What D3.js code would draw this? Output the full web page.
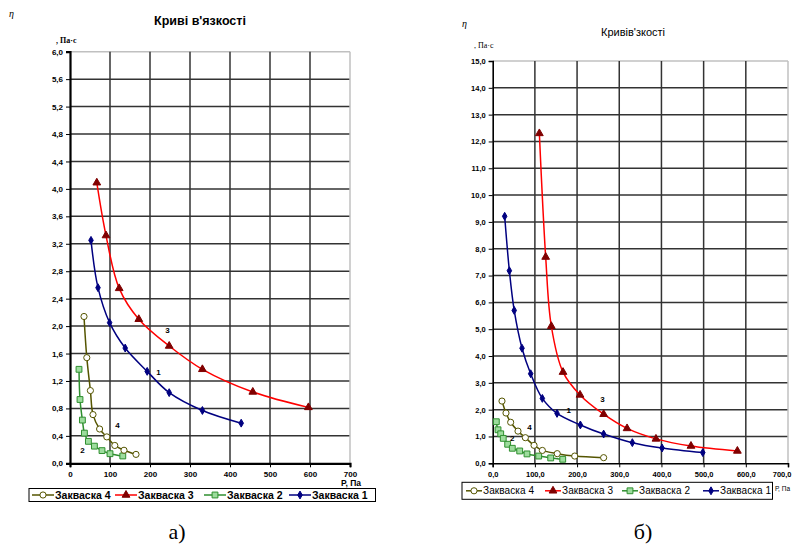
<!DOCTYPE html>
<html>
<head>
<meta charset="utf-8">
<script src="https://cdn.jsdelivr.net/npm/d3@7"></script>
<style>
  body { margin: 0; background: #fff; }
  svg { display: block; }
</style>
</head>
<body>
<svg id="chart" width="792" height="544"></svg>
<script>
// --- data: left chart (а), points [P, Па ; η, Па·с]
const leftZakvaska1 = [[52.5, 3.25], [70, 2.56], [99, 2.05], [138, 1.68], [193, 1.34], [248, 1.03], [331, 0.77], [428, 0.585]];
const leftZakvaska2 = [[22.5, 1.37], [25, 0.93], [31, 0.63], [36, 0.44], [46, 0.32], [61, 0.25], [80, 0.185], [100, 0.14], [132, 0.107]];
const leftZakvaska3 = [[67, 4.09], [90, 3.32], [123, 2.55], [172, 2.10], [248, 1.71], [331, 1.37], [457, 1.04], [596, 0.815]];
const leftZakvaska4 = [[35, 2.14], [42, 1.54], [51, 1.06], [57.5, 0.71], [74, 0.50], [92, 0.385], [112, 0.26], [135, 0.19], [165, 0.13]];
const leftCurveLabels = [['3', 244, 1.93], ['1', 221, 1.32], ['4', 119, 0.54], ['2', 31, 0.185]];

// --- data: right chart (б)
const rightZakvaska1 = [[28.4, 9.21], [39.5, 7.18], [51, 5.70], [69.5, 4.29], [90, 3.34], [117.7, 2.42], [152.5, 1.86], [207.8, 1.43], [263, 1.09], [331, 0.77], [401.5, 0.57], [498, 0.40]];
const rightZakvaska2 = [[8.6, 1.55], [12.6, 1.25], [19, 1.10], [25, 0.93], [35.5, 0.71], [46.5, 0.56], [64, 0.46], [81.3, 0.35], [109, 0.27], [137.5, 0.20], [166, 0.15]];
const rightZakvaska3 = [[110.6, 12.30], [125.6, 7.69], [139, 5.11], [166.7, 3.40], [207, 2.55], [263, 1.83], [318.5, 1.30], [387, 0.91], [470, 0.645], [580, 0.46]];
const rightZakvaska4 = [[22, 2.32], [31.5, 1.875], [42.6, 1.53], [60, 1.20], [77.4, 0.955], [98, 0.67], [117.7, 0.48], [153, 0.36], [194.4, 0.27], [263, 0.21]];
const rightCurveLabels = [['3', 260, 2.36], ['1', 180, 1.94], ['4', 87, 1.33], ['2', 46, 0.92]];

const legendNames = ['Закваска 4', 'Закваска 3', 'Закваска 2', 'Закваска 1'];
const leftYTicks = d3.range(0, 6.01, 0.4);
const leftXTicks = d3.range(0, 701, 100);
const rightYTicks = d3.range(0, 15.01, 1);
const rightXTicks = d3.range(0, 701, 100);

const styles = {
  s1: { line: '#000080', fill: '#000080', stroke: '#000080', symbol: d3.symbolDiamond, size: 18 },
  s2: { line: '#2f8f2f', fill: '#9ddc9d', stroke: '#2f8f2f', symbol: d3.symbolSquare, size: 34 },
  s3: { line: '#ff0000', fill: '#800000', stroke: '#800000', symbol: d3.symbolTriangle, size: 26 },
  s4: { line: '#555500', fill: '#ffffff', stroke: '#555500', symbol: d3.symbolCircle, size: 30 },
};

const svg = d3.select('#chart');
const fmt = (d) => d3.format('.1f')(d).replace('.', ',');

const drawChart = ({ x0, x1, y0, y1, xMax, yMax, xTicks, yTicks, xFmt, series, curveLabels,
  bold, tickFont, legend, title, titleX, titleY, unitX, unitY, etaX, etaY, pX, pY, pFont, capX, cap }) => {
  const g = svg.append('g');
  const x = d3.scaleLinear().domain([0, xMax]).range([x0, x1]);
  const y = d3.scaleLinear().domain([0, yMax]).range([y0, y1]);

  // grid
  g.selectAll('.hg').data(yTicks.slice(1)).join('line')
    .attr('x1', x0).attr('x2', x1)
    .attr('y1', (d) => y(d)).attr('y2', (d) => y(d))
    .attr('stroke', (d, i) => (i === yTicks.length - 2 ? '#c0c0c0' : '#333'))
    .attr('stroke-width', 1.5);
  g.selectAll('.vg').data(xTicks.slice(1)).join('line')
    .attr('y1', y0).attr('y2', y1)
    .attr('x1', (d) => x(d)).attr('x2', (d) => x(d))
    .attr('stroke', (d, i) => (i === xTicks.length - 2 ? '#c0c0c0' : '#333'))
    .attr('stroke-width', 1.5);

  // axes
  const yAxis = g.append('g').attr('transform', `translate(${x0},0)`)
    .call(d3.axisLeft(y).tickValues(yTicks).tickFormat(fmt).tickSize(4).tickPadding(3));
  const xAxis = g.append('g').attr('transform', `translate(0,${y0})`)
    .call(d3.axisBottom(x).tickValues(xTicks).tickFormat(xFmt).tickSize(4).tickPadding(4));
  [yAxis, xAxis].forEach((a) => {
    a.selectAll('path').attr('stroke', '#000').attr('stroke-width', bold ? 2.2 : 1.6);
    a.selectAll('line').attr('stroke', '#000').attr('stroke-width', 1);
    a.selectAll('text').attr('font-family', 'Arial, "Liberation Sans", sans-serif')
      .attr('font-weight', 'bold').attr('font-size', tickFont).attr('fill', '#000');
  });
  // keep the last x label inside the page
  xAxis.selectAll('.tick text').filter((d) => x(d) + 12 > 792)
    .attr('text-anchor', 'end').attr('x', (d) => 791 - x(d));

  // curves
  const line = d3.line().x((d) => x(d[0])).y((d) => y(d[1])).curve(d3.curveCatmullRom.alpha(0.5));
  series.forEach(({ data, st }) => {
    g.append('path').datum(data).attr('d', line)
      .attr('fill', 'none').attr('stroke', st.line).attr('stroke-width', 1.5);
  });
  series.forEach(({ data, st }) => {
    g.selectAll(null).data(data).join('path')
      .attr('d', d3.symbol(st.symbol, st.size))
      .attr('transform', (d) => `translate(${x(d[0])},${y(d[1])})`)
      .attr('fill', st.fill).attr('stroke', st.stroke).attr('stroke-width', 1);
  });

  g.selectAll(null).data(curveLabels).join('text')
    .attr('x', (d) => x(d[1])).attr('y', (d) => y(d[2]))
    .attr('text-anchor', 'middle').attr('dominant-baseline', 'middle')
    .attr('font-family', 'Arial, sans-serif').attr('font-weight', 'bold').attr('font-size', 8)
    .text((d) => d[0]);

  // titles and units
  g.append('text').attr('x', titleX).attr('y', titleY).attr('text-anchor', 'middle')
    .attr('font-family', 'Arial, "Liberation Sans", sans-serif')
    .attr('font-weight', bold ? 'bold' : 'normal').attr('font-size', bold ? 12.5 : 11)
    .text(title);
  g.append('text').attr('x', etaX).attr('y', etaY)
    .attr('font-family', '"Liberation Serif", "Times New Roman", serif').attr('font-style', 'italic')
    .attr('font-size', 10).text('η');
  g.append('text').attr('x', unitX).attr('y', unitY)
    .attr('font-family', '"Liberation Serif", "Times New Roman", serif')
    .attr('font-weight', bold ? 'bold' : 'normal').attr('font-size', 8).text(', Па·с');
  g.append('text').attr('x', pX).attr('y', pY).attr('text-anchor', 'middle')
    .attr('font-family', 'Arial, sans-serif').attr('font-weight', bold ? 'bold' : 'normal')
    .attr('font-size', pFont).text('Р, Па');

  // legend
  g.append('rect').attr('x', legend.x).attr('y', legend.y).attr('width', legend.w).attr('height', legend.h)
    .attr('fill', '#fff').attr('stroke', '#000').attr('stroke-width', 1);
  const legendSeries = [series[3], series[2], series[1], series[0]];
  legendSeries.forEach(({ st }, i) => {
    const lx = legend.starts[i];
    const ly = legend.y + legend.h / 2;
    g.append('line').attr('x1', lx).attr('x2', lx + legend.lineLen).attr('y1', ly).attr('y2', ly)
      .attr('stroke', st.line).attr('stroke-width', 1.5);
    g.append('path').attr('d', d3.symbol(st.symbol, st.size))
      .attr('transform', `translate(${lx + legend.lineLen / 2},${ly})`)
      .attr('fill', st.fill).attr('stroke', st.stroke).attr('stroke-width', 1);
    g.append('text').attr('x', lx + legend.lineLen + 1).attr('y', ly).attr('dominant-baseline', 'central')
      .attr('font-family', 'Arial, "Liberation Sans", sans-serif')
      .attr('font-weight', bold ? 'bold' : 'normal').attr('font-size', legend.font)
      .attr('letter-spacing', legend.spacing)
      .text(legendNames[i]);
  });

  // caption а) / б)
  g.append('text').attr('x', capX).attr('y', 539).attr('text-anchor', 'middle')
    .attr('font-family', '"Liberation Serif", "Times New Roman", serif').attr('font-size', 22)
    .text(cap);
};

drawChart({
  x0: 70, x1: 350, y0: 463.3, y1: 51.7, xMax: 700, yMax: 6,
  xTicks: leftXTicks, yTicks: leftYTicks, xFmt: d3.format('d'),
  series: [
    { data: leftZakvaska1, st: styles.s1 },
    { data: leftZakvaska2, st: styles.s2 },
    { data: leftZakvaska3, st: styles.s3 },
    { data: leftZakvaska4, st: styles.s4 },
  ],
  curveLabels: leftCurveLabels, bold: true, tickFont: 8,
  legend: { x: 29, y: 488.5, w: 346.5, h: 13, starts: [32, 115, 204, 289], lineLen: 22, font: 10.5, spacing: 0 },
  title: 'Криві в\'язкості', titleX: 200, titleY: 25,
  unitX: 56, unitY: 43, etaX: 9, etaY: 17, pX: 351, pY: 486, pFont: 8.5, capX: 177, cap: 'а)',
});

drawChart({
  x0: 492.7, x1: 788, y0: 463.3, y1: 61, xMax: 700, yMax: 15,
  xTicks: rightXTicks, yTicks: rightYTicks, xFmt: fmt,
  series: [
    { data: rightZakvaska1, st: styles.s1 },
    { data: rightZakvaska2, st: styles.s2 },
    { data: rightZakvaska3, st: styles.s3 },
    { data: rightZakvaska4, st: styles.s4 },
  ],
  curveLabels: rightCurveLabels, bold: false, tickFont: 7.5,
  legend: { x: 462, y: 482.3, w: 310.5, h: 17, starts: [466, 545, 622, 703], lineLen: 16, font: 10, spacing: 0.1 },
  title: 'Кривів\'зкості', titleX: 633, titleY: 36,
  unitX: 474, unitY: 48, etaX: 462, etaY: 27, pX: 782.5, pY: 491, pFont: 6.5, capX: 643, cap: 'б)',
});
</script>
</body>
</html>
